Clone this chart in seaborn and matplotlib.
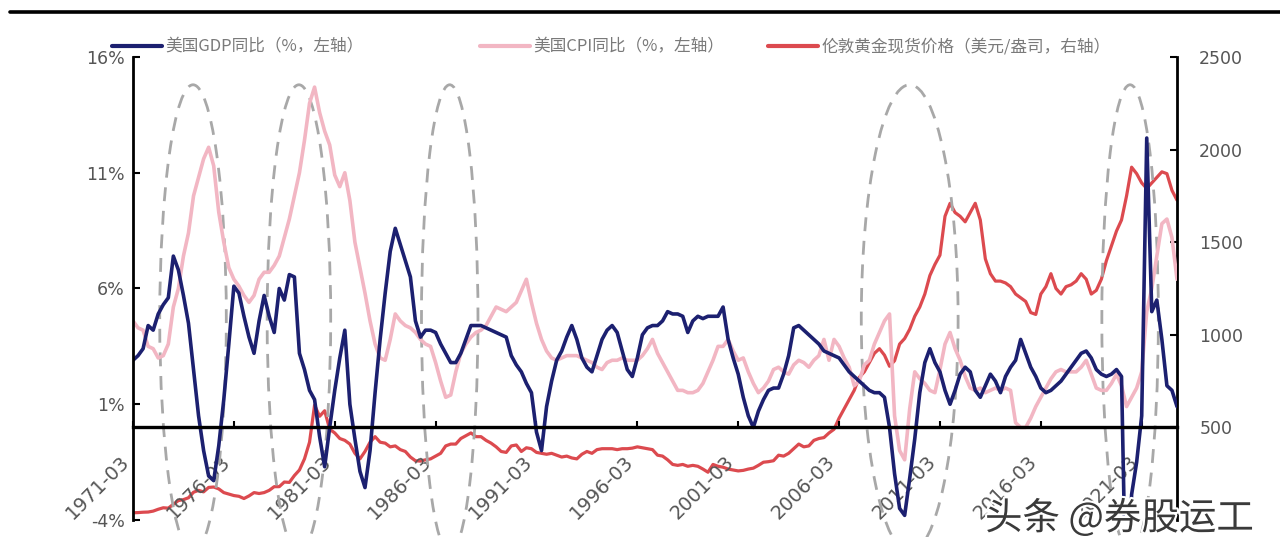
import matplotlib
matplotlib.use("Agg")
import matplotlib.pyplot as plt
import matplotlib.patheffects as pe
from matplotlib.patches import Ellipse
from matplotlib.lines import Line2D
from matplotlib.font_manager import FontProperties
import numpy as np
import pandas as pd
import seaborn as sns

# ---------------- data (quarterly, 1971Q1 - 2022Q4) ----------------
x_tick_labels = ["1971-03", "1976-03", "1981-03", "1986-03", "1991-03", "1996-03",
                 "2001-03", "2006-03", "2011-03", "2016-03", "2021-03"]

# US real GDP, year-on-year, %
gdp_yoy = [
    2.9, 3.1, 3.4, 4.4,      # 1971
    4.2, 4.9, 5.3, 5.6,      # 1972
    7.4, 6.8, 5.7, 4.5,      # 1973
    2.5, 0.5, -1.0, -2.1,    # 1974
    -2.3, -0.8, 1.2, 3.6,    # 1975
    6.1, 5.8, 4.8, 3.9,      # 1976
    3.2, 4.6, 5.7, 4.8,      # 1977
    4.1, 6.0, 5.5, 6.6,      # 1978
    6.5, 3.2, 2.5, 1.6,      # 1979
    1.2, -0.4, -1.7, 0.0,    # 1980
    1.6, 3.0, 4.2, 1.0,      # 1981
    -0.5, -1.9, -2.6, -1.0,  # 1982
    1.5, 3.8, 5.8, 7.6,      # 1983
    8.6, 7.9, 7.2, 6.5,      # 1984
    4.6, 3.9, 4.2, 4.2,      # 1985
    4.1, 3.6, 3.2, 2.8,      # 1986
    2.8, 3.2, 3.8, 4.4,      # 1987
    4.4, 4.4, 4.3, 4.2,      # 1988
    4.1, 4.0, 3.9, 3.1,      # 1989
    2.7, 2.4, 1.9, 1.5,      # 1990
    -0.2, -1.0, 0.9, 2.0,    # 1991
    2.9, 3.3, 3.9, 4.4,      # 1992
    3.8, 3.0, 2.6, 2.4,      # 1993
    3.1, 3.8, 4.2, 4.4,      # 1994
    4.1, 3.3, 2.5, 2.2,      # 1995
    3.0, 4.0, 4.3, 4.4,      # 1996
    4.4, 4.6, 5.0, 4.9,      # 1997
    4.9, 4.8, 4.1, 4.6,      # 1998
    4.8, 4.7, 4.8, 4.8,      # 1999
    4.8, 5.2, 3.8, 3.0,      # 2000
    2.3, 1.3, 0.5, 0.0,      # 2001
    0.7, 1.2, 1.6, 1.7,      # 2002
    1.7, 2.3, 3.1, 4.3,      # 2003
    4.4, 4.2, 4.0, 3.8,      # 2004
    3.6, 3.3, 3.2, 3.1,      # 2005
    3.0, 2.7, 2.4, 2.2,      # 2006
    2.0, 1.8, 1.6, 1.5,      # 2007
    1.5, 1.3, 0.0, -2.0,     # 2008
    -3.5, -3.8, -2.2, -0.5,  # 2009
    1.5, 2.8, 3.4, 2.8,      # 2010
    2.4, 1.6, 1.0, 1.6,      # 2011
    2.3, 2.6, 2.4, 1.6,      # 2012
    1.3, 1.8, 2.3, 2.0,      # 2013
    1.5, 2.2, 2.6, 2.9,      # 2014
    3.8, 3.2, 2.6, 2.2,      # 2015
    1.7, 1.5, 1.6, 1.8,      # 2016
    2.0, 2.3, 2.6, 2.9,      # 2017
    3.2, 3.3, 3.0, 2.5,      # 2018
    2.3, 2.2, 2.3, 2.5,      # 2019
    2.2, -9.0, -2.9, -1.5,   # 2020
    0.5, 12.5, 5.0, 5.5,     # 2021
    3.8, 1.8, 1.6, 0.9,      # 2022
]

# US CPI, year-on-year, %
cpi_yoy = [
    4.6, 4.3, 4.2, 3.5,      # 1971
    3.4, 3.0, 3.1, 3.6,      # 1972
    5.2, 6.0, 7.4, 8.4,      # 1973
    10.0, 10.8, 11.6, 12.1,  # 1974
    11.3, 9.3, 8.0, 6.9,     # 1975
    6.4, 6.1, 5.7, 5.4,      # 1976
    5.7, 6.4, 6.7, 6.7,      # 1977
    7.0, 7.4, 8.2, 9.0,      # 1978
    10.0, 11.0, 12.4, 14.0,  # 1979
    14.7, 13.6, 12.8, 12.2,  # 1980
    10.9, 10.4, 11.0, 9.8,   # 1981
    8.0, 6.9, 5.8, 4.6,      # 1982
    3.6, 3.0, 2.9, 3.8,      # 1983
    4.9, 4.6, 4.4, 4.3,      # 1984
    4.1, 3.8, 3.6, 3.5,      # 1985
    2.8, 2.0, 1.3, 1.4,      # 1986
    2.4, 3.2, 3.6, 3.9,      # 1987
    4.1, 4.2, 4.4, 4.8,      # 1988
    5.2, 5.1, 5.0, 5.2,      # 1989
    5.4, 5.9, 6.4, 5.4,      # 1990
    4.5, 3.8, 3.3, 3.0,      # 1991
    2.9, 3.0, 3.1, 3.1,      # 1992
    3.1, 3.0, 2.9, 2.8,      # 1993
    2.6, 2.5, 2.8, 2.9,      # 1994
    2.9, 3.0, 2.9, 2.9,      # 1995
    2.9, 3.1, 3.4, 3.8,      # 1996
    3.2, 2.8, 2.4, 2.0,      # 1997
    1.6, 1.6, 1.5, 1.5,      # 1998
    1.6, 1.9, 2.4, 2.9,      # 1999
    3.5, 3.5, 3.8, 3.3,      # 2000
    2.9, 3.0, 2.4, 1.9,      # 2001
    1.5, 1.7, 2.0, 2.5,      # 2002
    2.6, 2.4, 2.3, 2.7,      # 2003
    2.9, 2.8, 2.6, 2.9,      # 2004
    3.1, 3.8, 2.9, 3.8,      # 2005
    3.5, 3.0, 2.6, 1.8,      # 2006
    2.0, 2.7, 2.9, 3.6,      # 2007
    4.1, 4.6, 4.9, 0.5,      # 2008
    -1.0, -1.4, 0.8, 2.4,    # 2009
    2.1, 1.9, 1.6, 1.5,      # 2010
    2.5, 3.6, 4.1, 3.4,      # 2011
    2.9, 2.2, 1.7, 1.6,      # 2012
    1.7, 1.5, 1.6, 1.7,      # 2013
    1.6, 1.7, 1.6, 0.2,      # 2014
    0.0, 0.0, 0.4, 0.9,      # 2015
    1.3, 1.7, 2.1, 2.4,      # 2016
    2.5, 2.4, 2.4, 2.4,      # 2017
    2.6, 2.9, 2.3, 1.7,      # 2018
    1.6, 1.6, 1.9, 2.3,      # 2019
    1.8, 0.9, 1.3, 1.7,      # 2020
    2.4, 5.0, 6.0, 7.4,      # 2021
    8.8, 9.0, 8.2, 6.4,      # 2022
]

# London gold spot price, USD/oz
gold_price = [
    39, 40, 42, 43,          # 1971
    48, 58, 66, 64,          # 1972
    85, 105, 110, 120,       # 1973
    150, 160, 152, 176,      # 1974
    178, 168, 148, 140,      # 1975
    132, 128, 116, 130,      # 1976
    148, 143, 148, 160,      # 1977
    180, 180, 205, 203,      # 1978
    240, 270, 330, 420,      # 1979
    620, 560, 590, 490,      # 1980
    470, 440, 430, 410,      # 1981
    360, 330, 370, 420,      # 1982
    450, 420, 415, 395,      # 1983
    400, 380, 370, 340,      # 1984
    320, 318, 325, 330,      # 1985
    345, 360, 400, 410,      # 1986
    410, 440, 455, 470,      # 1987
    450, 450, 430, 415,      # 1988
    395, 370, 365, 400,      # 1989
    405, 370, 390, 385,      # 1990
    365, 360, 355, 360,      # 1991
    350, 340, 345, 335,      # 1992
    330, 355, 370, 360,      # 1993
    380, 385, 385, 385,      # 1994
    380, 385, 385, 388,      # 1995
    395, 390, 385, 380,      # 1996
    350, 345, 325, 300,      # 1997
    295, 300, 290, 295,      # 1998
    290, 275, 258, 300,      # 1999
    290, 285, 275, 270,      # 2000
    265, 268, 275, 280,      # 2001
    295, 312, 315, 320,      # 2002
    350, 345, 360, 385,      # 2003
    410, 395, 400, 430,      # 2004
    440, 445, 470, 490,      # 2005
    550, 600, 650, 700,      # 2006
    770, 800, 850, 900,      # 2007
    925, 890, 830, 860,      # 2008
    950, 980, 1030, 1100,    # 2009
    1150, 1220, 1320, 1380,  # 2010
    1430, 1640, 1710, 1660,  # 2011
    1640, 1610, 1660, 1710,  # 2012
    1620, 1410, 1330, 1290,  # 2013
    1290, 1280, 1260, 1220,  # 2014
    1200, 1180, 1120, 1110,  # 2015
    1220, 1260, 1330, 1250,  # 2016
    1220, 1260, 1270, 1290,  # 2017
    1330, 1300, 1220, 1240,  # 2018
    1300, 1400, 1480, 1560,  # 2019
    1620, 1750, 1905, 1870,  # 2020
    1820, 1790, 1820, 1850,  # 2021
    1880, 1870, 1780, 1727,  # 2022
]

# highlighted periods (quarter index of centre, half width in quarters)
band_center_q = [11.9, 32.9, 62.8, 154.0, 197.7]
band_half_width_q = [6.6, 6.3, 5.6, 9.6, 5.6]

series_labels = ["美国GDP同比（%，左轴）", "美国CPI同比（%，左轴）",
                 "伦敦黄金现货价格（美元/盎司，右轴）"]

# ---------------- styling ----------------
NAVY = "#1c2070"
PINK = "#f2b6c3"
RED = "#dc4a4f"
GREY_TXT = "#555555"
CJK = ["Noto Sans CJK SC", "DejaVu Sans"]

sns.set_theme(style="white")
plt.rcParams["font.family"] = ["DejaVu Sans", "Noto Sans CJK SC"]

df = pd.DataFrame({
    "q": np.arange(len(gdp_yoy)),
    "gdp": gdp_yoy,
    "cpi": cpi_yoy,
    "gold": gold_price,
})

fig = plt.figure(figsize=(12.8, 5.37), dpi=100)
fig.patch.set_facecolor("white")
ax = fig.add_axes([133 / 1280, 17 / 537, 1044 / 1280, 463 / 537])
ax2 = ax.twinx()
ax.set_zorder(ax2.get_zorder() + 1)
ax.patch.set_visible(False)

# gold on the right axis, GDP/CPI on the left
sns.lineplot(data=df, x="q", y="gold", ax=ax2, color=RED, lw=2.3, legend=False)
sns.lineplot(data=df, x="q", y="cpi", ax=ax, color=PINK, lw=2.6, legend=False)
sns.lineplot(data=df, x="q", y="gdp", ax=ax, color=NAVY, lw=2.6, legend=False)

n_q = len(gdp_yoy)
ax.set_xlim(0, n_q - 1)
ax.set_ylim(-4, 16)
ax2.set_ylim(0, 2500)

# dashed ellipses marking the highlighted periods
for cq, hw in zip(band_center_q, band_half_width_q):
    ax.add_patch(Ellipse((cq, 4.7), width=2 * hw, height=20.2, fill=False,
                         ec="#a8a8a8", lw=2.0, ls=(0, (5, 3.5)),
                         clip_on=False, zorder=1))

# axes, spines and ticks
ax.set_xlabel("")
ax.set_ylabel("")
ax2.set_ylabel("")
for s in ("top", "right"):
    ax.spines[s].set_visible(False)
for s in ("top", "left", "bottom"):
    ax2.spines[s].set_visible(False)
ax.spines["bottom"].set_position(("data", 0))
ax.spines["bottom"].set_color("black")
ax.spines["bottom"].set_linewidth(2.4)
ax.spines["left"].set_color("black")
ax.spines["left"].set_linewidth(2.0)
ax2.spines["right"].set_color("black")
ax2.spines["right"].set_linewidth(2.0)

ax.set_xticks(np.arange(0, n_q, 20))
ax.set_xticklabels(x_tick_labels, rotation=45, ha="right")
ax.tick_params(axis="x", direction="in", length=4, width=1.5, color="black",
               pad=18, labelsize=14, labelcolor=GREY_TXT, bottom=True)

left_ticks = [-4, 1, 6, 11, 16]
ax.set_yticks(left_ticks)
ax.set_yticklabels([f"{v}%" for v in left_ticks])
ax.tick_params(axis="y", direction="in", length=5, width=1.5, color="black",
               pad=6, labelsize=12.5, labelcolor=GREY_TXT, left=True)

right_ticks = [500, 1000, 1500, 2000, 2500]
ax2.set_yticks(right_ticks)
ax2.set_yticklabels([str(v) for v in right_ticks])
ax2.tick_params(axis="y", direction="in", length=5, width=1.5, color="black",
                pad=16, labelsize=12.5, labelcolor=GREY_TXT, right=True)
ax.grid(False)
ax2.grid(False)

# legend entries laid out along the top
leg_font = FontProperties(family=CJK, size=12)
colors = [NAVY, PINK, RED]
leg_x = [112, 480, 768]
for lab, col, lx in zip(series_labels, colors, leg_x):
    h = Line2D([], [], color=col, lw=3)
    fig.legend([h], [lab], loc="center left",
               bbox_to_anchor=(lx / 1280, 1 - 47 / 537), frameon=False,
               prop=leg_font, handlelength=3.0, handletextpad=0.2,
               borderpad=0, borderaxespad=0, labelcolor="#7a7a7a")

# report header rule
fig.add_artist(Line2D([10 / 1280, 1.0], [1 - 12 / 537, 1 - 12 / 537],
                      color="black", lw=2.6, transform=fig.transFigure))

# source watermark
fig.text(985 / 1280, 1 - 519 / 537, "头条 @券股运工", family=CJK, fontsize=27,
         color="#3a3a3a", va="center", ha="left",
         path_effects=[pe.withStroke(linewidth=3, foreground="white")])

fig.savefig("out.png", dpi=100, facecolor="white")
